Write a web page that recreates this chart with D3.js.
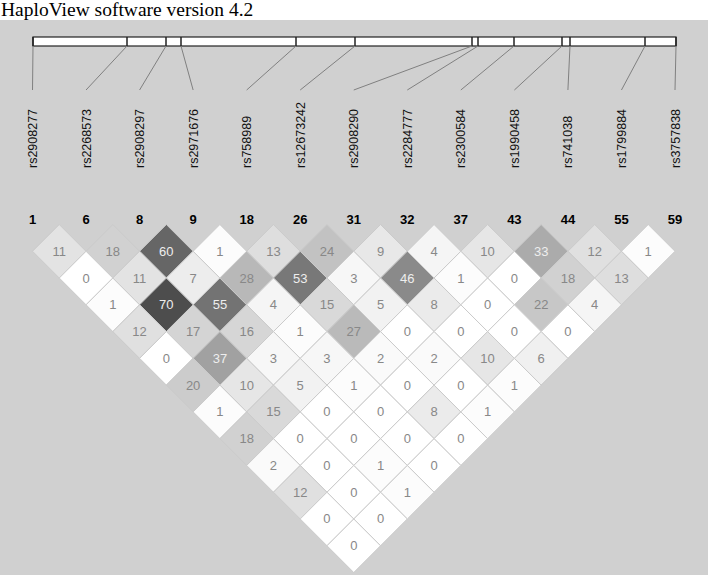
<!DOCTYPE html>
<html>
<head>
<meta charset="utf-8">
<script src="https://cdn.jsdelivr.net/npm/d3@7"></script>
<style>
  body { margin: 0; background: #fff; }
</style>
</head>
<body>
<svg id="chart"></svg>
<script>
// SNP data
var snpIds = ["rs2908277","rs2268573","rs2908297","rs2971676","rs758989","rs12673242","rs2908290",
              "rs2284777","rs2300584","rs1990458","rs741038","rs1799884","rs3757838"];
var snpNums = [1, 6, 8, 9, 18, 26, 31, 32, 37, 43, 44, 55, 59];
// relative physical position of each marker on the top bar
var physPos = [0, 94, 133, 148, 263, 322, 439, 445, 481, 529, 537, 612, 643];

// r2 (x100) values, one array per diagonal distance (1 = neighbours)
var r2d1  = [11, 18, 60, 1, 13, 24, 9, 4, 10, 33, 12, 1];
var r2d2  = [0, 11, 7, 28, 53, 3, 46, 1, 0, 18, 13];
var r2d3  = [1, 70, 55, 4, 15, 5, 8, 0, 22, 4];
var r2d4  = [12, 17, 16, 1, 27, 0, 0, 0, 0];
var r2d5  = [0, 37, 3, 3, 2, 2, 10, 6];
var r2d6  = [20, 10, 5, 1, 0, 0, 1];
var r2d7  = [1, 15, 0, 0, 8, 1];
var r2d8  = [18, 0, 0, 0, 0];
var r2d9  = [2, 0, 1, 0];
var r2d10 = [12, 0, 1];
var r2d11 = [0, 0];
var r2d12 = [0];
var diagonals = [r2d1, r2d2, r2d3, r2d4, r2d5, r2d6, r2d7, r2d8, r2d9, r2d10, r2d11, r2d12];

var W = 708, H = 575;
var svg = d3.select("#chart").attr("width", W).attr("height", H);

// title
svg.append("text")
  .attr("x", 1).attr("y", 16)
  .style("font-family", "'Liberation Serif', 'Times New Roman', serif")
  .style("font-size", "19.5px")
  .attr("fill", "#000")
  .text("HaploView software version 4.2");

// grey panel
svg.append("rect")
  .attr("x", 0).attr("y", 20).attr("width", W).attr("height", H - 20)
  .attr("fill", "#d0d0d0");

// scales
var x = d3.scalePoint().domain(d3.range(snpIds.length)).range([32.5, 675]);
var step = x.step();
var phys = d3.scaleLinear().domain([0, d3.max(physPos)]).range([33, 676]);
var color = d3.scaleLinear().domain([0, 100]).range(["#ffffff", "#000000"]);
var rowY = function(d) { return 224.5 + d * step / 2; };

// top bar with marker ticks
var barTop = 37, barBot = 46;
svg.append("rect")
  .attr("x", phys(0)).attr("y", barTop)
  .attr("width", phys(d3.max(physPos)) - phys(0)).attr("height", barBot - barTop)
  .attr("fill", "#fff").attr("stroke", "#222").attr("stroke-width", 1.2);

svg.append("g").selectAll("line")
  .data(physPos)
  .enter().append("line")
  .attr("x1", function(d) { return phys(d); })
  .attr("x2", function(d) { return phys(d); })
  .attr("y1", barTop).attr("y2", barBot)
  .attr("stroke", "#222").attr("stroke-width", 1.5);

// connectors from bar to labels
svg.append("g").selectAll("line")
  .data(physPos)
  .enter().append("line")
  .attr("x1", function(d) { return phys(d); })
  .attr("y1", barBot)
  .attr("x2", function(d, i) { return x(i); })
  .attr("y2", 90)
  .attr("stroke", "#808080").attr("stroke-width", 1);

// rotated SNP names
svg.append("g").selectAll("text")
  .data(snpIds)
  .enter().append("text")
  .attr("transform", function(d, i) { return "translate(" + (x(i) + 4.5) + ",168) rotate(-90)"; })
  .style("font-family", "'Liberation Sans', Arial, sans-serif")
  .style("font-size", "12.5px")
  .attr("fill", "#111")
  .text(function(d) { return d; });

// SNP numbers
svg.append("g").selectAll("text")
  .data(snpNums)
  .enter().append("text")
  .attr("x", function(d, i) { return x(i); })
  .attr("y", 224)
  .attr("text-anchor", "middle")
  .style("font-family", "'Liberation Sans', Arial, sans-serif")
  .style("font-size", "13px")
  .style("font-weight", "bold")
  .attr("fill", "#000")
  .text(function(d) { return d; });

// build cells
var cells = [];
diagonals.forEach(function(arr, k) {
  var d = k + 1;
  arr.forEach(function(v, i) {
    cells.push({i: i, j: i + d, d: d, v: v});
  });
});

var h = step / 2;
var cellG = svg.append("g").selectAll("g")
  .data(cells)
  .enter().append("g")
  .attr("transform", function(c) {
    return "translate(" + ((x(c.i) + x(c.j)) / 2) + "," + rowY(c.d) + ")";
  });

cellG.append("path")
  .attr("d", "M0," + (-h) + "L" + h + ",0L0," + h + "L" + (-h) + ",0Z")
  .attr("fill", function(c) { return color(c.v); })
  .attr("stroke", "#cbcbcb")
  .attr("stroke-width", 1);

cellG.append("text")
  .attr("y", 4.5)
  .attr("text-anchor", "middle")
  .style("font-family", "'Liberation Sans', Arial, sans-serif")
  .style("font-size", "13px")
  .attr("fill", function(c) { return c.v > 30 ? "#eeeeee" : "#888888"; })
  .text(function(c) { return c.v; });
</script>
</body>
</html>
